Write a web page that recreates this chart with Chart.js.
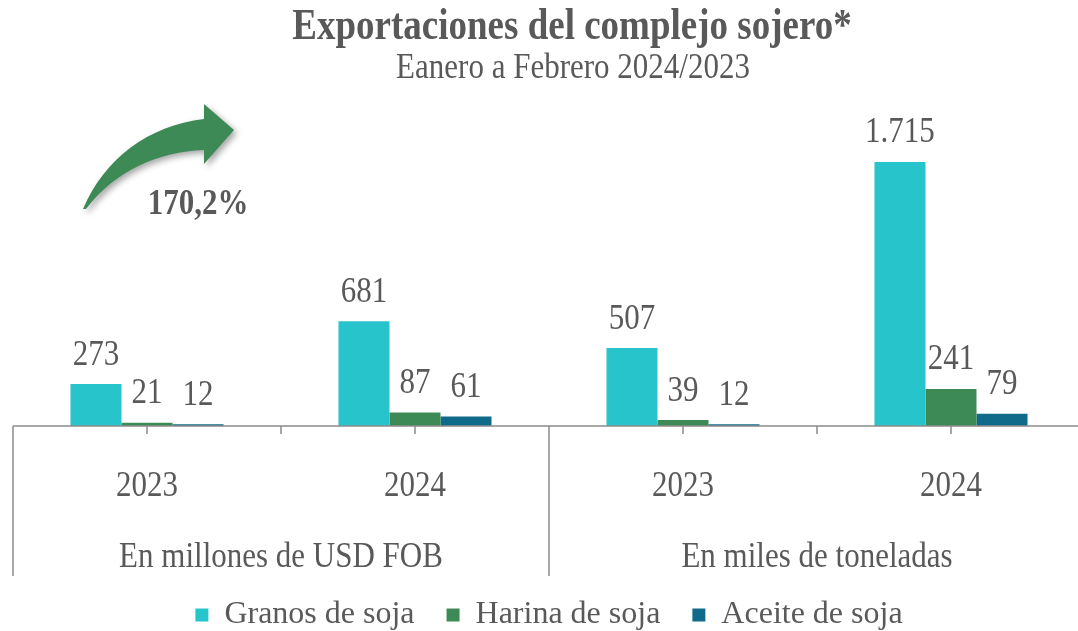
<!DOCTYPE html>
<html>
<head>
<meta charset="utf-8">
<script src="https://cdn.jsdelivr.net/npm/chart.js@4"></script>
<style>
  body { margin: 0; background: #fff; overflow: hidden; }
  #wrap { width: 1085px; height: 631px; }
</style>
</head>
<body>
<div id="wrap"><canvas id="soja"></canvas></div>
<script>
// datos
const anios = ['2023', '2024', '2023', '2024']
const unidades = ['En millones de USD FOB', 'En miles de toneladas']
const granos = [273, 681, 507, 1715]
const harina = [21, 87, 39, 241]
const aceite = [12, 61, 12, 79]
const series = ['Granos de soja', 'Harina de soja', 'Aceite de soja']
const variacion = '170,2%'

const colores = ['#27c4cc', '#3e8a57', '#106a8a']
const gris = '#595959'
const serif = "'Liberation Serif', 'Times New Roman', serif"
const estirar = 1.18
const padAbajo = -10
const ejeY = 426

function formato(n) {
    return String(n).replace(/\B(?=(\d{3})+(?!\d))/g, '.')
}

function texto(ctx, str, x, y, font) {
    ctx.save()
    ctx.font = font
    ctx.fillStyle = gris
    ctx.textAlign = 'center'
    ctx.textBaseline = 'middle'
    ctx.translate(x, y)
    ctx.scale(1, estirar)
    ctx.fillText(str, 0, 0)
    ctx.restore()
}

const extras = {
    id: 'extras',
    afterDraw(chart) {
        const ctx = chart.ctx
        const xs = chart.scales.x
        const area = chart.chartArea
        const base = area.bottom

        // titulo
        texto(ctx, 'Exportaciones del complejo sojero*', 572, 28, 'bold 37px ' + serif)
        texto(ctx, 'Eanero a Febrero 2024/2023', 573, 68, '31px ' + serif)

        // etiquetas de datos
        chart.data.datasets.forEach((ds, i) => {
            chart.getDatasetMeta(i).data.forEach((bar, j) => {
                texto(ctx, formato(ds.data[j]), bar.x, bar.y - 29, '31px ' + serif)
            })
        })

        // eje x con dos niveles
        ctx.save()
        ctx.strokeStyle = '#8c8c8c'
        ctx.lineWidth = 1.5
        ctx.beginPath()
        ctx.moveTo(area.left, base)
        ctx.lineTo(area.right, base)
        const paso = xs.getPixelForValue(1) - xs.getPixelForValue(0)
        for (let i = 0; i < anios.length; i++) {
            const c = xs.getPixelForValue(i)
            ctx.moveTo(c, base)
            ctx.lineTo(c, base + 8)
            const borde = c - paso / 2
            ctx.moveTo(borde, base)
            ctx.lineTo(borde, base + (i % 2 === 0 ? 150 : 8))
        }
        const fin = xs.getPixelForValue(anios.length - 1) + paso / 2
        ctx.moveTo(fin, base)
        ctx.lineTo(fin, base + 150)
        ctx.stroke()
        ctx.restore()

        anios.forEach((a, i) => {
            texto(ctx, a, xs.getPixelForValue(i), base + 60, '31px ' + serif)
        })
        unidades.forEach((u, k) => {
            const cx = (xs.getPixelForValue(2 * k) + xs.getPixelForValue(2 * k + 1)) / 2
            texto(ctx, u, cx, base + 131, '31px ' + serif)
        })

        // flecha de variacion
        ctx.save()
        ctx.fillStyle = '#3e8a57'
        ctx.shadowColor = 'rgba(0, 0, 0, 0.35)'
        ctx.shadowBlur = 6
        ctx.shadowOffsetX = 3
        ctx.shadowOffsetY = 3
        ctx.beginPath()
        ctx.moveTo(83, 209)
        ctx.bezierCurveTo(105, 158, 148, 126, 204, 119)
        ctx.lineTo(204, 104)
        ctx.lineTo(234, 130)
        ctx.lineTo(204, 164)
        ctx.lineTo(204, 150)
        ctx.bezierCurveTo(158, 152, 116, 170, 86, 209)
        ctx.closePath()
        ctx.fill()
        ctx.restore()
        texto(ctx, variacion, 198, 205, 'bold 31px ' + serif)
    }
}

const chart_soja = document.getElementById('soja')
new Chart(chart_soja, {
    type: 'bar',
    data: {
        labels: anios,
        datasets: [
            { label: series[0], data: granos, backgroundColor: colores[0] },
            { label: series[1], data: harina, backgroundColor: colores[1] },
            { label: series[2], data: aceite, backgroundColor: colores[2] }
        ]
    },
    options: {
        responsive: true,
        maintainAspectRatio: false,
        animation: false,
        layout: {
            padding: { top: 118, left: 13, right: 0, bottom: padAbajo }
        },
        datasets: {
            bar: { categoryPercentage: 0.571, barPercentage: 1, borderWidth: 0 }
        },
        scales: {
            x: {
                grid: { display: false },
                border: { display: false },
                ticks: { display: false },
                afterFit(s) {
                    s.height = s.chart.height - padAbajo - s.chart.legend.height - ejeY
                }
            },
            y: {
                display: false,
                min: 0,
                max: 2000
            }
        },
        plugins: {
            tooltip: { enabled: false },
            legend: {
                position: 'bottom',
                labels: {
                    font: { family: serif, size: 32 },
                    color: gris,
                    boxWidth: 13,
                    boxHeight: 13,
                    padding: 32
                }
            }
        }
    },
    plugins: [extras]
})
</script>
</body>
</html>
